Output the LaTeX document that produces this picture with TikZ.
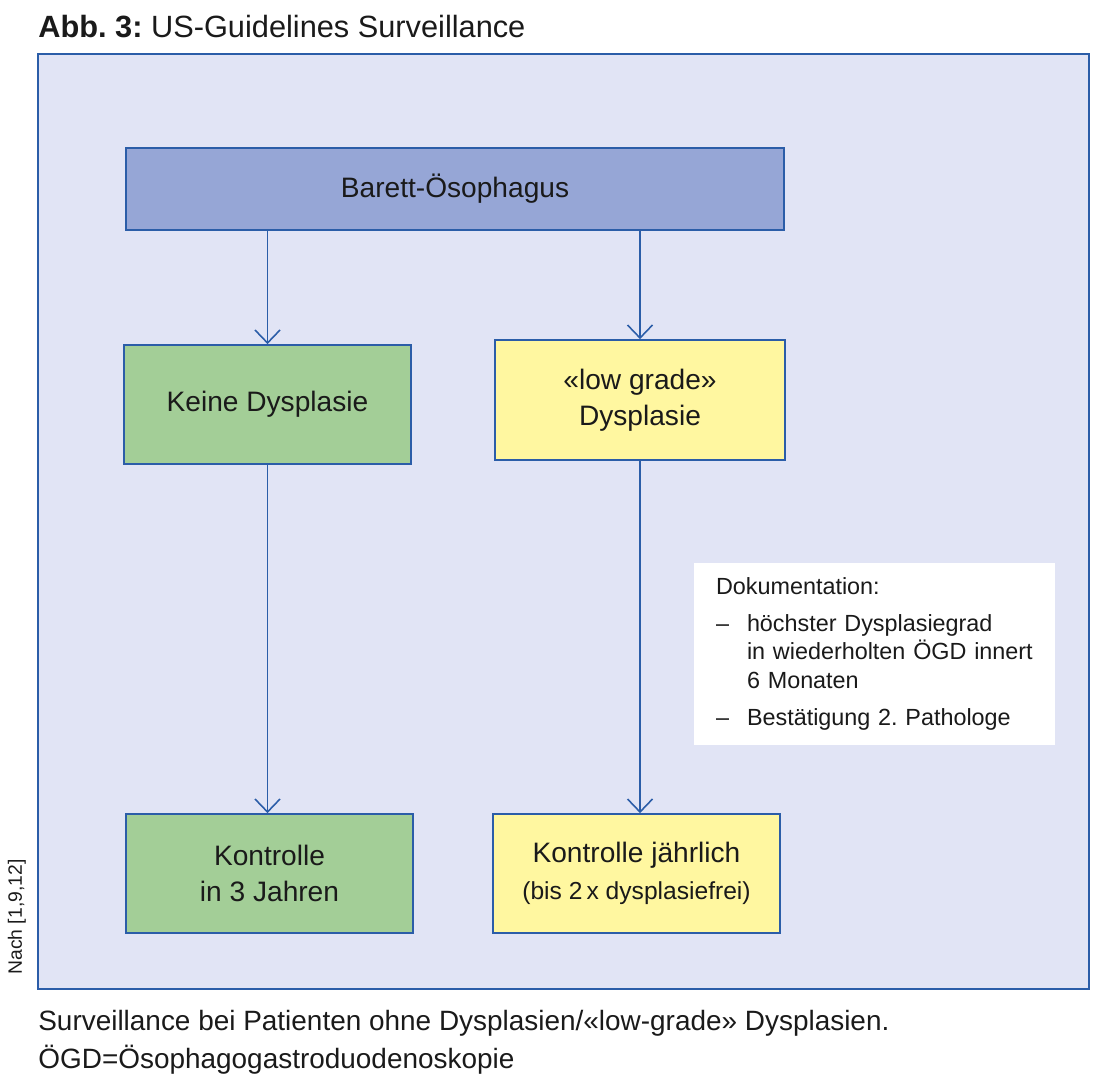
\documentclass[tikz,border=0pt]{standalone}
\usepackage{fontspec}
\setmainfont{Liberation Sans}
\usetikzlibrary{arrows.meta}
\definecolor{frameblue}{HTML}{2B5DA8}
\definecolor{framefill}{HTML}{E1E4F5}
\definecolor{topfill}{HTML}{96A6D6}
\definecolor{greenfill}{HTML}{A3CE97}
\definecolor{yellowfill}{HTML}{FFF7A0}
\definecolor{textdark}{HTML}{1A1A1A}
\frenchspacing

\begin{document}
\begin{tikzpicture}[>={Straight Barb[length=2.6mm,width=5mm]},
    every node/.style={text=textdark, inner sep=0pt},
    box/.style={draw=frameblue, line width=1pt, align=center, font=\fontsize{16}{20.7}\selectfont},
    link/.style={->, draw=frameblue, line width=0.9pt}]
    \useasboundingbox (0,0) rectangle (22,-21.78);
    \node [anchor=base west, font=\fontsize{17.5}{21}\selectfont] (title) at (0.76,-0.74) {\textbf{Abb. 3:} US-Guidelines Surveillance};
    \draw [draw=frameblue, fill=framefill, line width=1.3pt] (0.76,-1.08) rectangle (21.78,-19.78);
    \node [rotate=90, font=\fontsize{11}{13}\selectfont] (source) at (0.34,-18.34) {Nach [1,9,12]};

    \node [box, fill=topfill, minimum width=13.16cm, minimum height=1.64cm] (barett) at (9.10,-3.78) {Barett-Ösophagus};
    \node [box, fill=greenfill, minimum width=5.74cm, minimum height=2.38cm] (keine) at (5.35,-8.09) {Keine Dysplasie};
    \node [box, fill=yellowfill, minimum width=5.80cm, minimum height=2.40cm] (lowgrade) at (12.80,-8.00) {«low grade»\\Dysplasie};
    \node [box, fill=greenfill, minimum width=5.74cm, minimum height=2.38cm] (kontrolleA) at (5.39,-17.47) {Kontrolle\\in 3 Jahren};
    \node [box, fill=yellowfill, minimum width=5.74cm, minimum height=2.38cm] (kontrolleB) at (12.73,-17.47) {Kontrolle jährlich\\{\fontsize{14}{17}\selectfont (bis 2\,x dysplasiefrei)}};

    \node [fill=white, minimum width=7.22cm, minimum height=3.64cm, text width=6.34cm, inner xsep=0.44cm, align=left, font=\fontsize{13.3}{16.2}\selectfont] (doku) at (17.49,-13.08)
        {Dokumentation:\\[0.17cm]
        \makebox[0.62cm][l]{–}höchster Dysplasiegrad\\
        \hspace*{0.62cm}\mbox{in wiederholten ÖGD innert}\\
        \hspace*{0.62cm}6 Monaten\\[0.19cm]
        \makebox[0.62cm][l]{–}Bestätigung 2. Pathologe};

    \draw [link] (keine.north |- barett.south) -- (keine.north);
    \draw [link] (lowgrade.north |- barett.south) -- (lowgrade.north);
    \draw [link] (keine.south) -- (keine.south |- kontrolleA.north);
    \draw [link] (lowgrade.south) -- (lowgrade.south |- kontrolleB.north);

    \node [anchor=base west, font=\fontsize{15.9}{19}\selectfont] (caption) at (0.76,-20.60) {Surveillance bei Patienten ohne Dysplasien/«low-grade» Dysplasien.};
    \node [anchor=base west, font=\fontsize{15.9}{19}\selectfont] (captionb) at (0.76,-21.36) {ÖGD=Ösophagogastroduodenoskopie};
\end{tikzpicture}
\end{document}
